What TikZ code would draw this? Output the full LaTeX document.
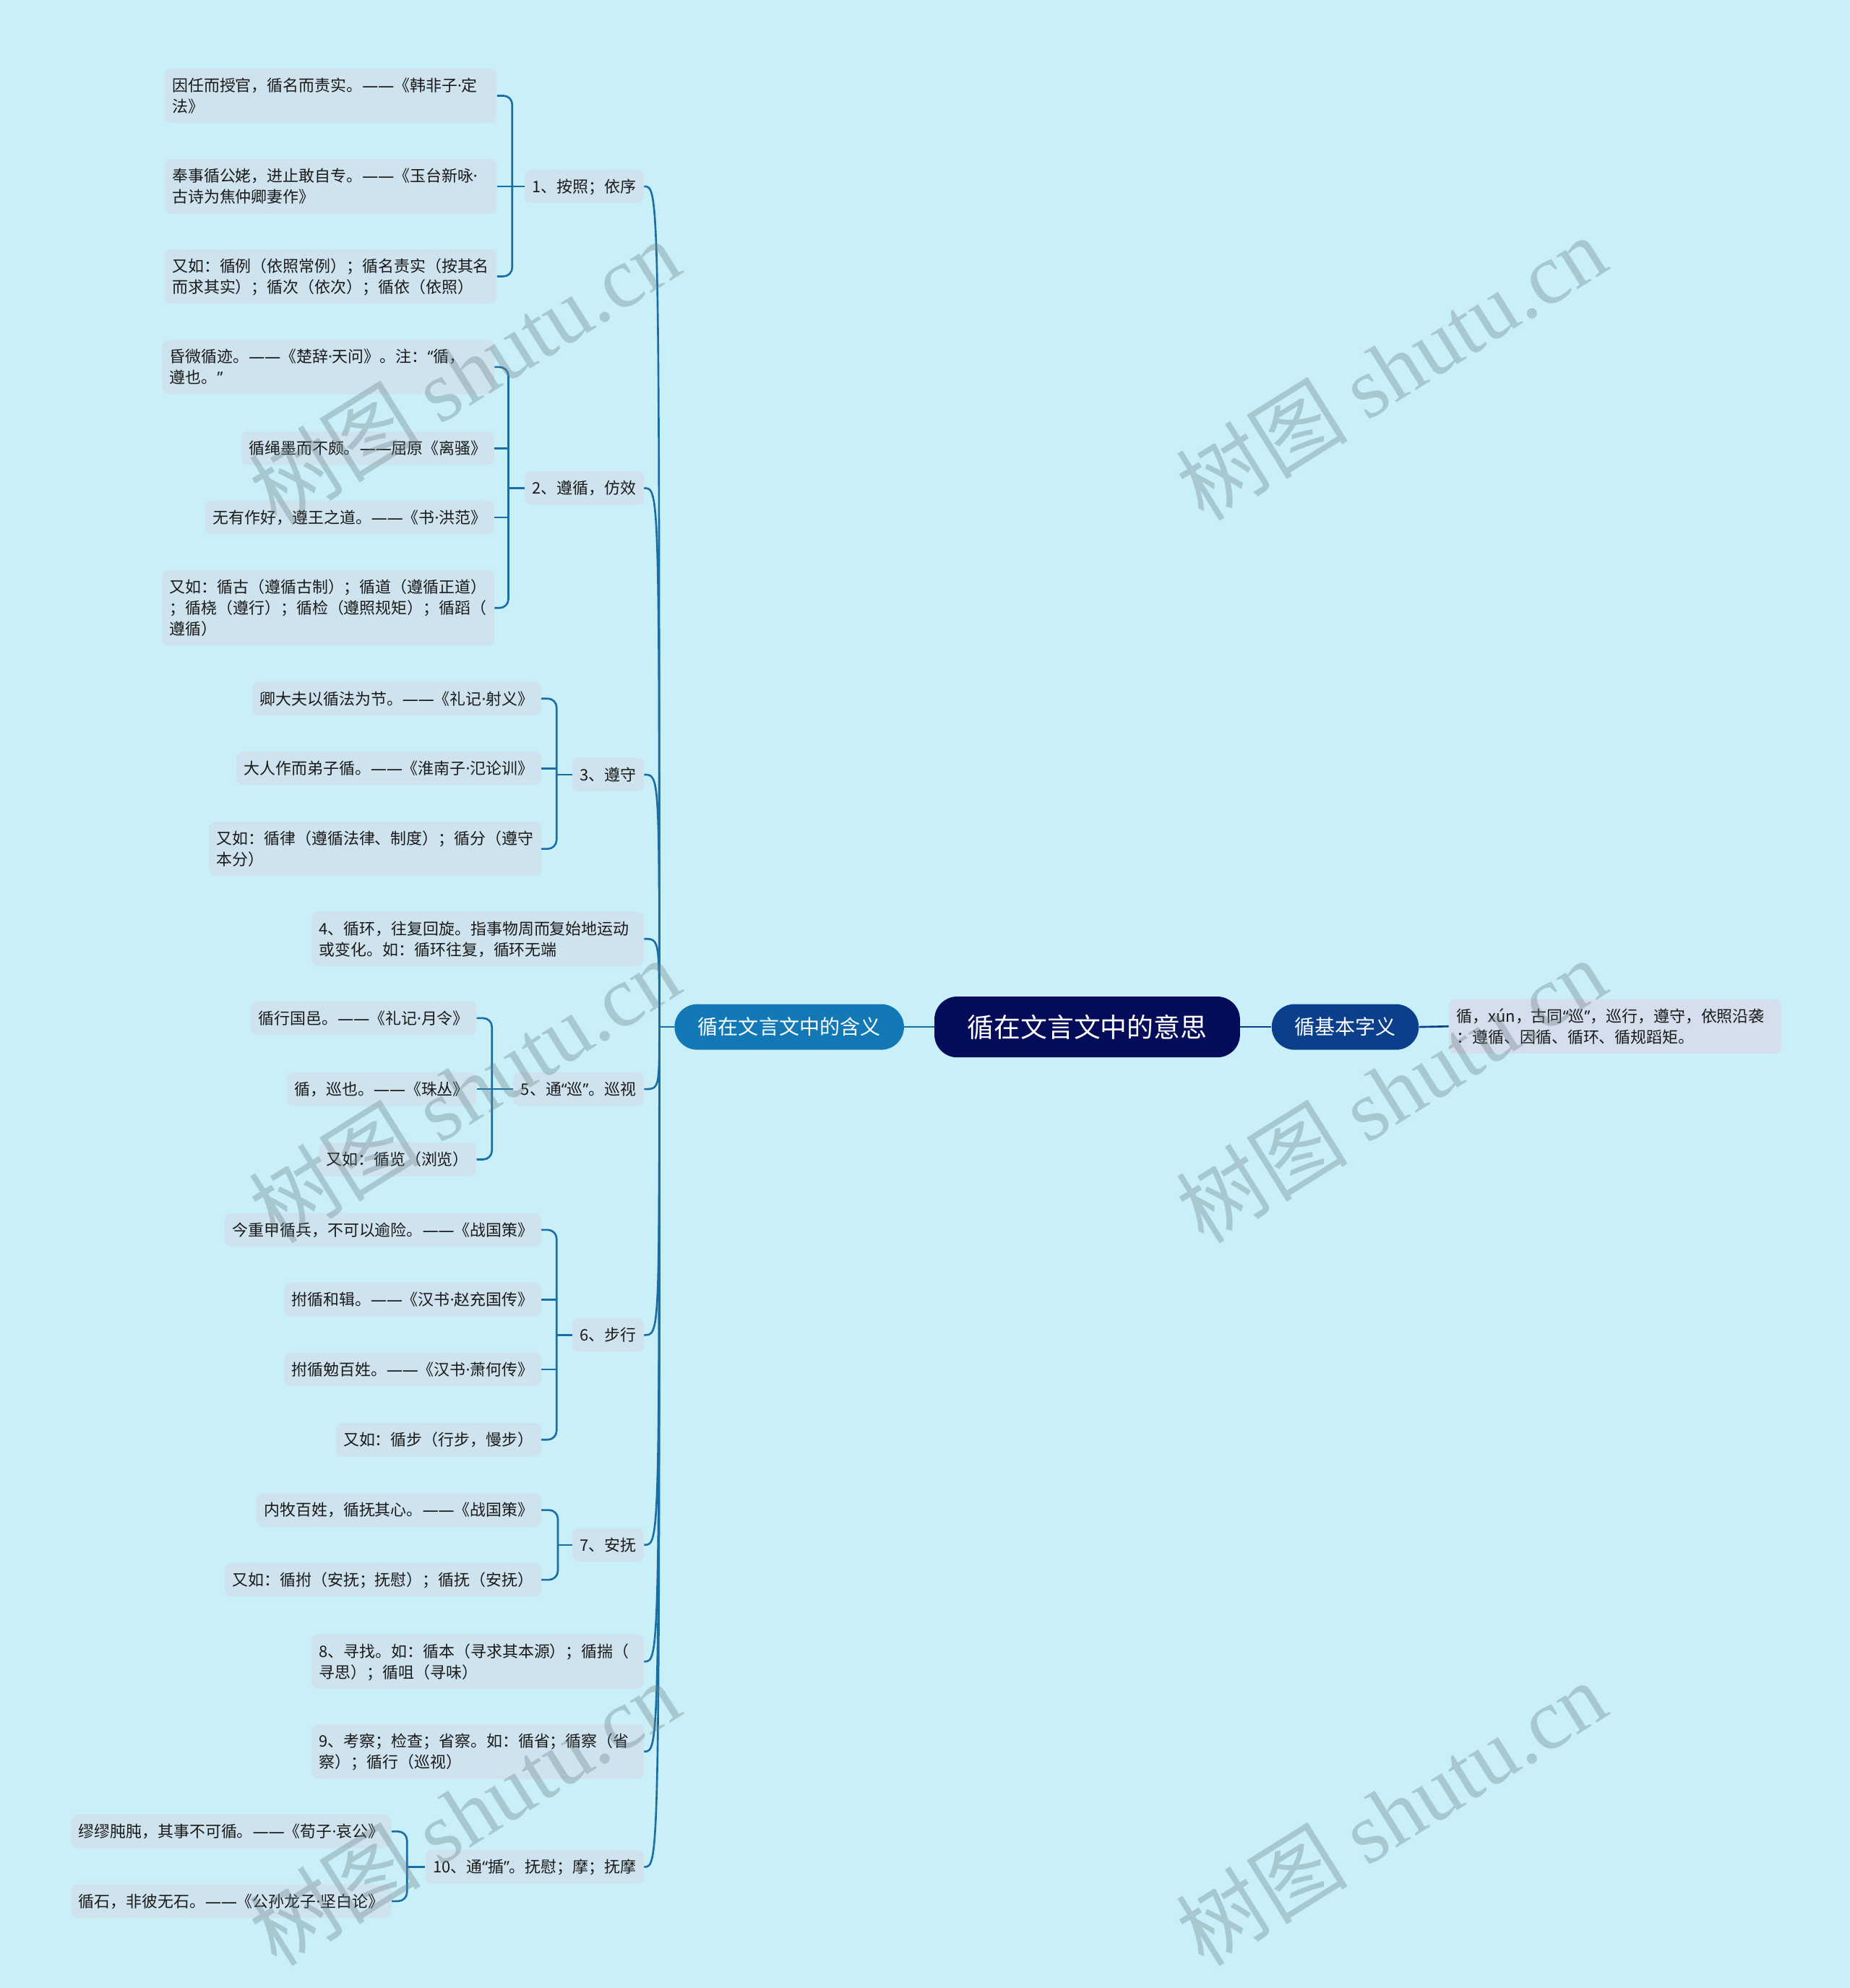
\documentclass[tikz,border=0pt]{standalone}
\usepackage{fontspec}
\setmainfont{Noto Sans CJK SC}
\newfontfamily\wmserif{Liberation Serif}
\newfontfamily\lat{Noto Sans}
\usetikzlibrary{calc}
\definecolor{bgc}{RGB}{201,240,248}
\definecolor{leafc}{RGB}{206,227,238}
\definecolor{rleafc}{RGB}{212,222,236}
\definecolor{linec}{RGB}{26,110,166}
\definecolor{lmc}{RGB}{18,121,182}
\definecolor{rootc}{RGB}{5,12,90}
\definecolor{rmc}{RGB}{11,63,140}
\definecolor{txtc}{RGB}{26,26,26}
\definecolor{wmc}{RGB}{110,130,135}
\newcommand\ls{\rule[-3.5pt]{0pt}{16.5pt}}
\newcommand\qL{{\lat “}}
\newcommand\qR{{\lat ”}}
\newcommand\mdot{{\lat ·}}
\newcommand\edash{{\lat ——}}
\begin{document}
\begin{tikzpicture}[x=1pt,y=-1pt,
  leaf/.style={fill=leafc, rounded corners=5pt, inner xsep=6pt, inner ysep=5pt,
    font=\fontsize{12.5}{16.5}\selectfont, align=left, anchor=east, text=txtc},
  wide/.style={text width=250pt},
  conn/.style={draw=linec, line width=1.5pt, rounded corners=7pt},
  curve/.style={draw=linec, line width=1.5pt},
  pill/.style={rounded corners=18pt, text=white, inner sep=0pt, align=center},
  wm/.style={text=wmc, text opacity=0.36, rotate=32, inner sep=0pt,
    font=\fontsize{68}{68}\selectfont}
]
\useasboundingbox (0,0) rectangle (1459,1568);
\fill[bgc] (0,0) rectangle (1459,1568);

% ---------- main nodes ----------
\node[pill, fill=rootc, minimum width=241pt, minimum height=48pt, font=\fontsize{21}{21}\selectfont] (root) at (857.5,810) {循在文言文中的意思};
\node[pill, fill=lmc, minimum width=181pt, minimum height=36pt, font=\fontsize{16}{16}\selectfont] (lm) at (622.5,810) {循在文言文中的含义};
\node[pill, fill=rmc, minimum width=116pt, minimum height=36pt, font=\fontsize{16}{16}\selectfont] (rm) at (1061,810) {循基本字义};
\node[leaf, wide, fill=rleafc] (rl) at (1405,809.5) {\ls 循，xún，古同\qL 巡\qR ，巡行，遵守，依照沿袭\\\ls ：遵循、因循、循环、循规蹈矩。};

\draw[curve, draw=linec] (root.west) -- (lm.east);
\draw[curve, draw=rmc] (root.east) -- (rm.west);
\draw[curve, draw=rmc] (rm.east) -- (rl.west);

\coordinate (sp) at (520,810);
\draw[curve] (lm.west) -- (sp);

% ---------- category 1 ----------
\node[leaf, wide] (a1) at (392,75.5) {\ls 因任而授官，循名而责实。\edash《韩非子\mdot 定\\\ls 法》};
\node[leaf, wide] (a2) at (392,147) {\ls 奉事循公姥，进止敢自专。\edash《玉台新咏\mdot\\\ls 古诗为焦仲卿妻作》};
\node[leaf, wide] (a3) at (392,218) {\ls 又如：循例（依照常例）；循名责实（按其名\\\ls 而求其实）；循次（依次）；循依（依照）};
\node[leaf] (c1n) at (508,147) {\ls 1、按照；依序};
\coordinate (k1) at (404,147);
\draw[conn] (a1.east) -- (a1.east -| k1) -- (a3.east -| k1) -- (a3.east);
\draw[conn] (a2.east) -- (a2.east -| k1);
\draw[conn] (c1n.west) -- (k1);

% ---------- category 2 ----------
\node[leaf, wide] (b1) at (390,289.5) {\ls 昏微循迹。\edash《楚辞\mdot 天问》。注：\qL 循，\\\ls 遵也。\qR};
\node[leaf] (b2) at (390,353.5) {\ls 循绳墨而不颇。\edash 屈原《离骚》};
\node[leaf] (b3) at (390,408) {\ls 无有作好，遵王之道。\edash《书\mdot 洪范》};
\node[leaf, wide] (b4) at (390,479.5) {\ls 又如：循古（遵循古制）；循道（遵循正道）\\\ls ；循桡（遵行）；循检（遵照规矩）；循蹈（\\\ls 遵循）};
\node[leaf] (c2n) at (508,385) {\ls 2、遵循，仿效};
\coordinate (k2) at (401,385);
\draw[conn] (b1.east) -- (b1.east -| k2) -- (b4.east -| k2) -- (b4.east);
\draw[conn] (b2.east) -- (b2.east -| k2);
\draw[conn] (b3.east) -- (b3.east -| k2);
\draw[conn] (c2n.west) -- (k2);

% ---------- category 3 ----------
\node[leaf] (d1) at (427,551) {\ls 卿大夫以循法为节。\edash《礼记\mdot 射义》};
\node[leaf] (d2) at (427,606) {\ls 大人作而弟子循。\edash《淮南子\mdot 氾论训》};
\node[leaf, wide] (d3) at (427,669.5) {\ls 又如：循律（遵循法律、制度）；循分（遵守\\\ls 本分）};
\node[leaf] (c3n) at (508,611) {\ls 3、遵守};
\coordinate (k3) at (439,611);
\draw[conn] (d1.east) -- (d1.east -| k3) -- (d3.east -| k3) -- (d3.east);
\draw[conn] (d2.east) -- (d2.east -| k3);
\draw[conn] (c3n.west) -- (k3);

% ---------- category 4 ----------
\node[leaf, wide] (c4n) at (508,740.5) {\ls 4、循环，往复回旋。指事物周而复始地运动\\\ls 或变化。如：循环往复，循环无端};

% ---------- category 5 ----------
\node[leaf] (e1) at (376,803) {\ls 循行国邑。\edash《礼记\mdot 月令》};
\node[leaf] (e2) at (376,859) {\ls 循，巡也。\edash《珠丛》};
\node[leaf] (e3) at (376,914.5) {\ls 又如：循览（浏览）};
\node[leaf] (c5n) at (508,859) {\ls 5、通\qL 巡\qR 。巡视};
\coordinate (k5) at (388,859);
\draw[conn] (e1.east) -- (e1.east -| k5) -- (e3.east -| k5) -- (e3.east);
\draw[conn] (e2.east) -- (e2.east -| k5);
\draw[conn] (c5n.west) -- (k5);

% ---------- category 6 ----------
\node[leaf] (f1) at (427,970) {\ls 今重甲循兵，不可以逾险。\edash《战国策》};
\node[leaf] (f2) at (427,1025) {\ls 拊循和辑。\edash《汉书\mdot 赵充国传》};
\node[leaf] (f3) at (427,1080) {\ls 拊循勉百姓。\edash《汉书\mdot 萧何传》};
\node[leaf] (f4) at (427,1135.5) {\ls 又如：循步（行步，慢步）};
\node[leaf] (c6n) at (508,1053) {\ls 6、步行};
\coordinate (k6) at (439,1053);
\draw[conn] (f1.east) -- (f1.east -| k6) -- (f4.east -| k6) -- (f4.east);
\draw[conn] (f2.east) -- (f2.east -| k6);
\draw[conn] (f3.east) -- (f3.east -| k6);
\draw[conn] (c6n.west) -- (k6);

% ---------- category 7 ----------
\node[leaf] (g1) at (427,1191) {\ls 内牧百姓，循抚其心。\edash《战国策》};
\node[leaf] (g2) at (427,1246) {\ls 又如：循拊（安抚；抚慰）；循抚（安抚）};
\node[leaf] (c7n) at (508,1218.5) {\ls 7、安抚};
\coordinate (k7) at (440,1218.5);
\draw[conn] (g1.east) -- (g1.east -| k7) -- (g2.east -| k7) -- (g2.east);
\draw[conn] (c7n.west) -- (k7);

% ---------- categories 8, 9 ----------
\node[leaf, wide] (c8n) at (508,1310.5) {\ls 8、寻找。如：循本（寻求其本源）；循揣（\\\ls 寻思）；循咀（寻味）};
\node[leaf, wide] (c9n) at (508,1381.5) {\ls 9、考察；检查；省察。如：循省；循察（省\\\ls 察）；循行（巡视）};

% ---------- category 10 ----------
\node[leaf] (j1) at (309,1444.5) {\ls 缪缪肫肫，其事不可循。\edash《荀子\mdot 哀公》};
\node[leaf] (j2) at (309,1499.5) {\ls 循石，非彼无石。\edash《公孙龙子\mdot 坚白论》};
\node[leaf] (c10n) at (508,1472.5) {\ls 10、通\qL 揗\qR 。抚慰；摩；抚摩};
\coordinate (k10) at (321,1472.5);
\draw[conn] (j1.east) -- (j1.east -| k10) -- (j2.east -| k10) -- (j2.east);
\draw[conn] (c10n.west) -- (k10);

% ---------- curves from spine ----------
\foreach \c in {c1n,c2n,c3n,c4n,c5n,c6n,c7n,c8n,c9n,c10n}{
  \draw[curve] (sp) .. controls (sp |- \c.east) .. (\c.east);
}

% ---------- watermarks ----------
\node[wm] (w1) at (366,293) {树图 {\wmserif shutu.cn}};
\node[wm] (w2) at (1097,290) {树图 {\wmserif shutu.cn}};
\node[wm] (w3) at (366,860) {树图 {\wmserif shutu.cn}};
\node[wm] (w4) at (1097,860) {树图 {\wmserif shutu.cn}};
\node[wm] (w5) at (366,1430) {树图 {\wmserif shutu.cn}};
\node[wm] (w6) at (1097,1430) {树图 {\wmserif shutu.cn}};
\end{tikzpicture}
\end{document}
